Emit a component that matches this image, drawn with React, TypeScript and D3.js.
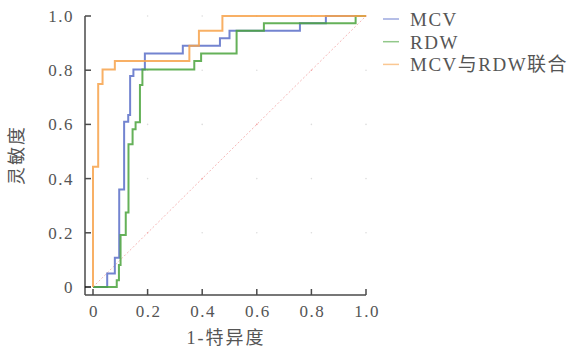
import React, { useRef, useEffect } from "react";
import * as d3 from "d3";

// ROC step points [1-specificity, sensitivity]
const mcvPoints: [number, number][] = [
  [0, 0], [0.052, 0], [0.052, 0.05], [0.08, 0.05], [0.08, 0.108], [0.096, 0.108],
  [0.096, 0.36], [0.114, 0.36], [0.114, 0.61], [0.129, 0.61], [0.129, 0.635],
  [0.136, 0.635], [0.136, 0.779], [0.148, 0.779], [0.148, 0.803], [0.19, 0.803],
  [0.19, 0.862], [0.329, 0.862], [0.329, 0.89], [0.465, 0.89], [0.465, 0.918],
  [0.5, 0.918], [0.5, 0.946], [0.758, 0.946], [0.758, 0.973], [0.853, 0.973],
  [0.853, 1], [1, 1],
];

const rdwPoints: [number, number][] = [
  [0, 0], [0.087, 0], [0.087, 0.025], [0.095, 0.025], [0.095, 0.081], [0.101, 0.081],
  [0.101, 0.192], [0.12, 0.192], [0.12, 0.275], [0.13, 0.275], [0.13, 0.527],
  [0.145, 0.527], [0.145, 0.582], [0.156, 0.582], [0.156, 0.608], [0.172, 0.608],
  [0.172, 0.745], [0.181, 0.745], [0.181, 0.803], [0.371, 0.803], [0.371, 0.834],
  [0.396, 0.834], [0.396, 0.862], [0.526, 0.862], [0.526, 0.946], [0.626, 0.946],
  [0.626, 0.973], [0.962, 0.973], [0.962, 1], [1, 1],
];

const comboPoints: [number, number][] = [
  [0, 0], [0, 0.444], [0.019, 0.444], [0.019, 0.749], [0.035, 0.749], [0.035, 0.803],
  [0.08, 0.803], [0.08, 0.834], [0.353, 0.834], [0.353, 0.89], [0.388, 0.89],
  [0.388, 0.946], [0.474, 0.946], [0.474, 1], [1, 1],
];

const seriesNames = ["MCV", "RDW", "MCV与RDW联合"];
const seriesColors = ["#5a6ec8", "#4aa33c", "#f7a24a"];
const ticks = [0, 0.2, 0.4, 0.6, 0.8, 1.0];
const tickLabels = ["0", "0.2", "0.4", "0.6", "0.8", "1.0"];

function RocChart() {
  const svgRef = useRef<SVGSVGElement>(null);

  useEffect(() => {
    const width = 576;
    const height = 350;
    const svg = d3.select(svgRef.current);
    svg.selectAll("*").remove();
    svg.attr("width", width).attr("height", height);

    const x = d3.scaleLinear().domain([0, 1]).range([93, 366]);
    const y = d3.scaleLinear().domain([0, 1]).range([287, 16]);
    const axisLeftX = 85;
    const axisBottomY = 295;
    const serif = "'Liberation Serif', 'Times New Roman', serif";
    const axisColor = "#4a4a4a";
    const textColor = "#555";

    // faint grid dots
    const grid = svg.append("g");
    ticks.slice(1).forEach(tx => {
      ticks.slice(1).forEach(ty => {
        grid.append("circle")
          .attr("cx", x(tx))
          .attr("cy", y(ty))
          .attr("r", 0.8)
          .attr("fill", tx === ty ? "#f2a0a0" : "#dddddd");
      });
    });

    // diagonal reference
    svg.append("line")
      .attr("x1", x(0)).attr("y1", y(0))
      .attr("x2", x(1)).attr("y2", y(1))
      .attr("stroke", "#f6b8b8")
      .attr("stroke-width", 1)
      .attr("stroke-dasharray", "2,2");

    // axes
    svg.append("line")
      .attr("x1", axisLeftX).attr("y1", y(1))
      .attr("x2", axisLeftX).attr("y2", axisBottomY)
      .attr("stroke", axisColor).attr("stroke-width", 1.5);
    svg.append("line")
      .attr("x1", axisLeftX).attr("y1", axisBottomY)
      .attr("x2", x(1)).attr("y2", axisBottomY)
      .attr("stroke", axisColor).attr("stroke-width", 1.5);

    ticks.forEach((t, i) => {
      svg.append("line")
        .attr("x1", axisLeftX).attr("x2", axisLeftX + 6)
        .attr("y1", y(t)).attr("y2", y(t))
        .attr("stroke", i === 0 ? "#111" : axisColor).attr("stroke-width", 1.5);
      svg.append("text")
        .attr("x", 74)
        .attr("y", y(t))
        .attr("dy", "0.35em")
        .attr("text-anchor", "end")
        .attr("font-family", serif)
        .attr("font-size", 17)
        .attr("letter-spacing", 1.5)
        .attr("fill", textColor)
        .text(tickLabels[i]);

      svg.append("line")
        .attr("x1", x(t)).attr("x2", x(t))
        .attr("y1", axisBottomY).attr("y2", axisBottomY - 6)
        .attr("stroke", axisColor).attr("stroke-width", 1.5);
      svg.append("text")
        .attr("x", x(t) + 1)
        .attr("y", 317)
        .attr("text-anchor", "middle")
        .attr("font-family", serif)
        .attr("font-size", 17)
        .attr("letter-spacing", 1.5)
        .attr("fill", textColor)
        .text(tickLabels[i]);
    });

    // axis titles
    svg.append("text")
      .attr("transform", "translate(23,155) rotate(-90)")
      .attr("text-anchor", "middle")
      .attr("font-family", "'Noto Sans CJK SC', sans-serif")
      .attr("font-size", 18)
      .attr("letter-spacing", 2)
      .attr("fill", textColor)
      .text("灵敏度");

    svg.append("text")
      .attr("x", 226)
      .attr("y", 344)
      .attr("text-anchor", "middle")
      .attr("font-family", "'Liberation Serif', 'Noto Sans CJK SC', serif")
      .attr("font-size", 18)
      .attr("letter-spacing", 2)
      .attr("fill", textColor)
      .text("1-特异度");

    // curves
    const line = d3.line<[number, number]>()
      .x(d => x(d[0]))
      .y(d => y(d[1]));

    [mcvPoints, rdwPoints, comboPoints].forEach((pts, i) => {
      svg.append("path")
        .datum(pts)
        .attr("fill", "none")
        .attr("stroke", seriesColors[i])
        .attr("stroke-width", 2)
        .attr("stroke-opacity", 0.85)
        .attr("d", line);
    });

    // legend
    const legend = svg.append("g");
    seriesNames.forEach((name, i) => {
      const ly = 19 + i * 22.7;
      legend.append("line")
        .attr("x1", 383).attr("x2", 399)
        .attr("y1", ly).attr("y2", ly)
        .attr("stroke", seriesColors[i])
        .attr("stroke-width", 1.5)
        .attr("stroke-opacity", 0.6);
      legend.append("text")
        .attr("x", 410)
        .attr("y", ly + 7)
        .attr("font-family", "'Liberation Serif', 'Noto Sans CJK SC', serif")
        .attr("font-size", 19)
        .attr("letter-spacing", 1.5)
        .attr("fill", textColor)
        .text(name);
    });
  }, []);

  return <svg ref={svgRef} style={{ position: "absolute", left: 0, top: 0 }}></svg>;
}

export default function App() {
  return <RocChart />;
}
